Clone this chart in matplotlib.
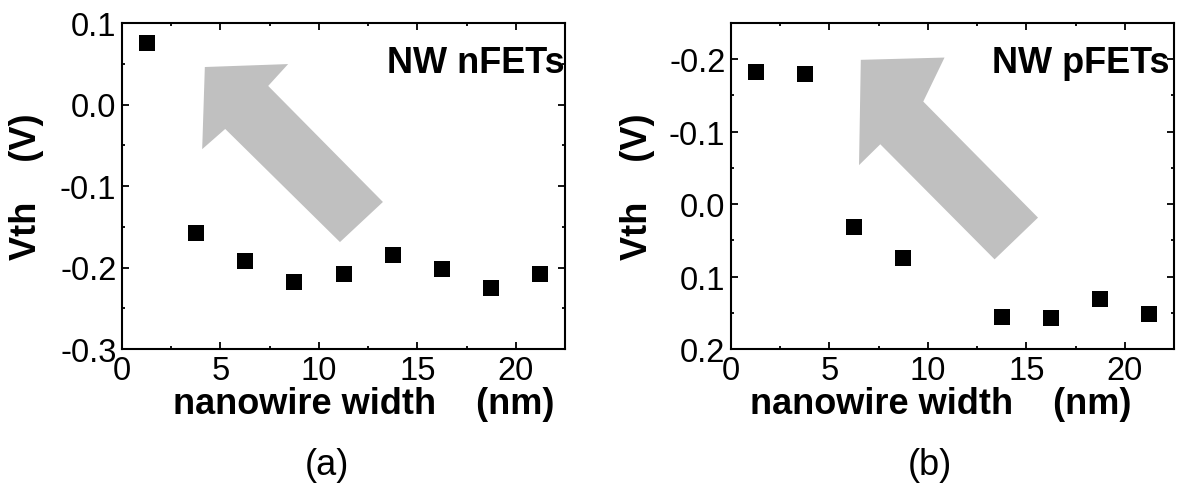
import matplotlib
matplotlib.use("Agg")
import matplotlib.pyplot as plt
from matplotlib.patches import Polygon
from matplotlib.ticker import MultipleLocator, FormatStrFormatter

plt.rcParams['font.family'] = ['Liberation Sans', 'DejaVu Sans']
plt.rcParams['axes.unicode_minus'] = False

# ---- data ----
width_n = [1.25, 3.75, 6.25, 8.75, 11.25, 13.75, 16.25, 18.75, 21.25]
vth_n = [0.075, -0.158, -0.192, -0.218, -0.208, -0.185, -0.202, -0.225, -0.208]

width_p = [1.25, 3.75, 6.25, 8.75, 13.75, 16.25, 18.75, 21.25]
vth_p = [-0.183, -0.179, 0.031, 0.074, 0.156, 0.157, 0.131, 0.151]

xlabel = "nanowire width    (nm)"
ylabel = "Vth    (V)"
tags = ["NW nFETs", "NW pFETs"]
panel_labels = ["(a)", "(b)"]

# arrow outlines in axes-fraction coordinates
arrow_a = [(0.187, 0.865), (0.375, 0.874), (0.330, 0.807), (0.589, 0.451),
           (0.492, 0.328), (0.233, 0.675), (0.181, 0.613)]
arrow_b = [(0.293, 0.887), (0.482, 0.894), (0.434, 0.759), (0.693, 0.403),
           (0.595, 0.275), (0.337, 0.628), (0.289, 0.564)]

W, H = 1178, 485
fig = plt.figure(figsize=(W / 100, H / 100), dpi=100)

def px_axes(x0, y_top, w, h):
    return [x0 / W, (H - y_top - h) / H, w / W, h / H]

ax1 = fig.add_axes(px_axes(122, 24, 443, 326))
ax2 = fig.add_axes(px_axes(731, 24, 443, 326))

def style(ax):
    for s in ax.spines.values():
        s.set_linewidth(1.5)
    ax.tick_params(which='both', direction='in', top=True, right=True,
                   labelsize=23.5, width=1.3, pad=4)
    ax.tick_params(which='major', length=5)
    ax.tick_params(which='minor', length=2.5)
    ax.xaxis.set_major_locator(MultipleLocator(5))
    ax.xaxis.set_minor_locator(MultipleLocator(2.5))
    ax.yaxis.set_major_locator(MultipleLocator(0.1))
    ax.yaxis.set_minor_locator(MultipleLocator(0.05))
    ax.yaxis.set_major_formatter(FormatStrFormatter('%.1f'))

# panel (a)
ax1.plot(width_n, vth_n, 's', color='black', ms=11.5, mew=0, zorder=3)
ax1.set_xlim(0, 22.5)
ax1.set_ylim(-0.3, 0.1)
style(ax1)
ax1.add_patch(Polygon(arrow_a, closed=True, transform=ax1.transAxes,
                      facecolor='#c0c0c0', edgecolor='none', zorder=1))
ax1.text(1.0, 0.849, tags[0], transform=ax1.transAxes, ha='right',
         va='baseline', fontsize=26, fontweight='bold')
ax1.set_xlabel(xlabel, fontsize=26, fontweight='bold')
ax1.xaxis.set_label_coords(0.545, -0.112)
ax1.set_ylabel(ylabel, fontsize=26, fontweight='bold')
ax1.yaxis.set_label_coords(-0.175, 0.5)

# panel (b)
ax2.plot(width_p, vth_p, 's', color='black', ms=11.5, mew=0, zorder=3)
ax2.set_xlim(0, 22.5)
ax2.set_ylim(0.2, -0.25)
style(ax2)
ax2.add_patch(Polygon(arrow_b, closed=True, transform=ax2.transAxes,
                      facecolor='#c0c0c0', edgecolor='none', zorder=1))
ax2.text(0.99, 0.851, tags[1], transform=ax2.transAxes, ha='right',
         va='baseline', fontsize=26, fontweight='bold')
ax2.set_xlabel(xlabel, fontsize=26, fontweight='bold')
ax2.xaxis.set_label_coords(0.474, -0.112)
ax2.set_ylabel(ylabel, fontsize=26, fontweight='bold')
ax2.yaxis.set_label_coords(-0.172, 0.5)

fig.text(327 / W, 1 - 466 / H, panel_labels[0], ha='center', va='center', fontsize=26)
fig.text(930 / W, 1 - 466 / H, panel_labels[1], ha='center', va='center', fontsize=26)

fig.savefig("out.png", dpi=100)
